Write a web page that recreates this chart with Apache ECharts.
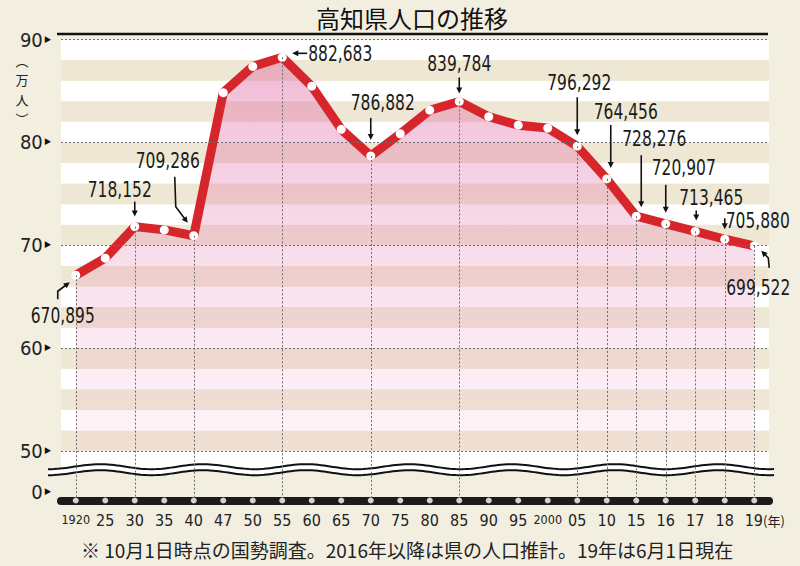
<!DOCTYPE html>
<html><head><meta charset="utf-8">
<script src="https://cdn.jsdelivr.net/npm/echarts@6/dist/echarts.min.js"></script>
<style>html,body{margin:0;padding:0;background:#f2efe1;}#c{width:800px;height:566px;}</style>
</head><body><div id="c"></div>
<script>
// ---- data ----
const categories = ['1920','25','30','35','40','47','50','55','60','65','70','75','80','85','90','95','2000','05','10','15','16','17','18','19'];
const population = [670895,687478,718152,714980,709286,848337,873874,882683,854595,812714,786882,808397,831275,839784,825034,816704,813949,796292,764456,728276,720907,713465,705880,699522];
const labeledIndex = [0,2,4,7,10,13,17,18,19,20,21,22,23];
const yTickValues = [50,60,70,80,90];
const yBreakTick = 46;          // axis position shown as "0" below the break
const titleText = '高知県人口の推移';
const unitChars = ['︵','万','人','︶'];
const noteText = '※ 10月1日時点の国勢調査。2016年以降は県の人口推計。19年は6月1日現在';

// ---- layout / style (not data) ----
const yMin = 45.2, yMax = 90;
const narrow = '"Liberation Sans Narrow","DejaVu Sans Condensed","Liberation Sans",sans-serif';
const jp = '"Noto Sans CJK JP","Noto Sans CJK SC",sans-serif';
const annotLayout = {
  0: {t:[-13,41], a:[[-18,24],[-18,16],[-6,7]]},
  2: {t:[-15,-37], a:[[0,-25],[0,-10]]},
  4: {t:[-26,-75], a:[[-19,-59],[-18,-29],[-6,-13]]},
  7: {t:[58,-3], a:[[25,-4],[10,-4]]},
  10:{t:[12,-53], a:[[0,-38],[0,-16]]},
  13:{t:[0,-38], a:[[0,-24],[0,-8]]},
  17:{t:[2,-63], a:[[0,-49],[0,-11]]},
  18:{t:[19,-67], a:[[4,-54],[4,-11]]},
  19:{t:[18,-77], a:[[5,-61],[5,-9]]},
  20:{t:[18,-56], a:[[0,-39],[0,-11]]},
  21:{t:[16,-34], a:[[1,-21],[1,-11]]},
  22:{t:[33,-18], a:[[0,-21],[0,-10]]},
  23:{t:[4,42], a:[[15,22],[14,12],[7,5]]}
};
const unitY = [60, 79.5, 99, 118.5];

const values = population.map(v => v / 10000);
const chart = echarts.init(document.getElementById('c'), null, {renderer: 'svg'});

const bands = [];
for (let b = 48; b < 90; b += 2) {
  const idx = (90 - b) / 2 - 1;
  bands.push([{yAxis: b, itemStyle: {color: idx % 2 === 0 ? '#ffffff' : '#eee7d3'}}, {yAxis: b + 2}]);
}

chart.setOption({
  backgroundColor: '#f2efe1',
  animation: false,
  grid: {left: 61, right: 31, top: 39.5, bottom: 65.5},
  xAxis: {
    type: 'category', data: categories, boundaryGap: true, z: 4,
    axisLine: {lineStyle: {color: '#1b1b1b', width: 8}},
    axisTick: {show: false},
    splitLine: {show: false},
    axisLabel: {
      interval: 0, hideOverlap: false,
      margin: 12, fontFamily: narrow, fontSize: 16, color: '#222',
      formatter: v => (v === '1920' || v === '2000') ? '{s|' + v + '}' : (v === '19' ? '{p|}19{n|(年)}' : v),
      rich: {
        s: {fontSize: 12.5, fontFamily: narrow, color: '#222'},
        p: {width: 21},
        n: {fontSize: 13, fontFamily: jp, color: '#222'}
      }
    }
  },
  yAxis: {
    type: 'value', min: yMin, max: yMax,
    axisLine: {show: false},
    axisTick: {show: false, customValues: [yBreakTick].concat(yTickValues)},
    splitLine: {show: false},
    axisLabel: {
      customValues: [yBreakTick].concat(yTickValues),
      margin: 10, fontFamily: narrow, fontSize: 20, color: '#222',
      formatter: v => '{v|' + (Math.abs(v - yBreakTick) < 1e-6 ? '0' : Math.round(v)) + '}{t|▶}',
      rich: {v: {fontFamily: narrow, fontSize: 20, color: '#222'}, t: {fontSize: 9, color: '#111', padding: [0, 0, 2, 2]}}
    }
  },
  series: [
    {type: 'line', data: [], z: 0, silent: true,
     markArea: {silent: true, data: bands}},
    {type: 'line', data: [], z: 1, silent: true,
     markLine: {silent: true, symbol: 'none', label: {show: false},
       lineStyle: {type: [2, 2], color: '#6d6d6d', width: 1},
       data: yTickValues.map(v => ({yAxis: v}))}},
    {type: 'line', data: [], z: 2, silent: true,
     markLine: {silent: true, symbol: 'none', label: {show: false},
       lineStyle: {type: [2, 2], color: '#6d6d6d', width: 1},
       data: labeledIndex.map(i => [{coord: [categories[i], values[i]]}, {coord: [categories[i], yMin]}])}},
    {type: 'line', data: values, z: 3, silent: true,
     lineStyle: {color: '#d6262c', width: 9},
     symbol: 'circle', symbolSize: 9,
     itemStyle: {color: '#ffffff', borderWidth: 0},
     areaStyle: {origin: 50, color: new echarts.graphic.LinearGradient(0, 0, 0, 1, [
       {offset: 0, color: 'rgba(222,95,160,0.62)'},
       {offset: 1, color: 'rgba(245,180,210,0.2)'}])}},
    {type: 'scatter', data: categories.map(c => [c, yMin]), z: 5, clip: false, silent: true,
     symbolSize: 6, itemStyle: {color: '#ffffff'}}
  ]
});

// ---- decorations and annotations ----
const g = [];
g.push({type: 'text', x: 412, y: 17, z: 10, style: {text: titleText, font: '400 24px ' + jp, fill: '#111', align: 'center', verticalAlign: 'middle'}});
g.push({type: 'line', z: 10, shape: {x1: 57, y1: 34, x2: 768, y2: 34}, style: {stroke: '#111', lineWidth: 2.5}});
unitChars.forEach((ch, k) => {
  g.push({type: 'text', x: 22, y: unitY[k], z: 10, style: {text: ch, font: '13px ' + jp, fill: '#222', align: 'center', verticalAlign: 'middle'}});
});
g.push({type: 'text', x: 407, y: 549, z: 10, style: {text: noteText, font: '19px ' + jp, fill: '#222', align: 'center', verticalAlign: 'middle'}});

// wave (axis break)
const up = [], lo = [];
for (let x = 48; x <= 775; x += 3) {
  const yy = 466.7 - 2.5 * Math.cos(2 * Math.PI * (x - 100) / 103);
  up.push([x, yy]); lo.push([x, yy + 6]);
}
g.push({type: 'polygon', z: 1, shape: {points: lo.filter(p => p[0] >= 57 && p[0] <= 770).concat([[770, 480], [57, 480]])}, style: {fill: '#f2efe1'}});
g.push({type: 'polygon', z: 1, shape: {points: up.concat(lo.slice().reverse())}, style: {fill: '#ffffff'}});
g.push({type: 'polyline', z: 1, shape: {points: up}, style: {stroke: '#111', lineWidth: 2, fill: null}});
g.push({type: 'polyline', z: 1, shape: {points: lo}, style: {stroke: '#111', lineWidth: 2, fill: null}});

labeledIndex.forEach(i => {
  const p = chart.convertToPixel({gridIndex: 0}, [categories[i], values[i]]);
  const L = annotLayout[i];
  g.push({type: 'text', z: 10, x: p[0] + L.t[0], y: p[1] + L.t[1], scaleX: 0.82,
    style: {text: population[i].toLocaleString('en-US'), font: '21px ' + narrow, fill: '#1a1a1a', align: 'center', verticalAlign: 'middle'}});
  const pts = L.a.map(o => [p[0] + o[0], p[1] + o[1]]);
  const P = pts[pts.length - 1], Q = pts[pts.length - 2];
  const dx = P[0] - Q[0], dy = P[1] - Q[1], len = Math.hypot(dx, dy);
  const ux = dx / len, uy = dy / len, hl = 6, hw = 3;
  const bx = P[0] - ux * hl, by = P[1] - uy * hl;
  const shaftEnd = [P[0] - ux * (hl - 1), P[1] - uy * (hl - 1)];
  g.push({type: 'polyline', z: 10, shape: {points: pts.slice(0, -1).concat([shaftEnd])}, style: {stroke: '#111', lineWidth: 1.6, fill: null}});
  g.push({type: 'polygon', z: 10, shape: {points: [P, [bx - uy * hw, by + ux * hw], [bx + uy * hw, by - ux * hw]]}, style: {fill: '#111'}});
});
chart.setOption({graphic: g});
</script></body></html>
